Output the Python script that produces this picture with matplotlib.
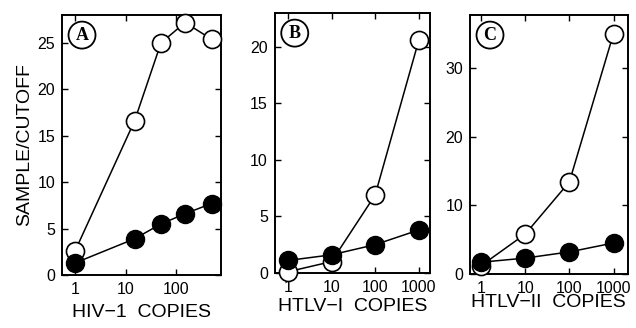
import matplotlib
matplotlib.use("Agg")
import matplotlib.pyplot as plt
from matplotlib.patches import Ellipse
import numpy as np

plt.rcParams['font.family'] = ['Liberation Sans', 'DejaVu Sans']

# Panel A: HIV-1
a_x = [1, 15, 50, 150, 500]
a_open = [2.6, 16.6, 25.0, 27.2, 25.4]
a_fill = [1.3, 3.9, 5.5, 6.6, 7.7]
# Panel B: HTLV-I
b_x = [1, 10, 100, 1000]
b_open = [0.1, 1.0, 6.9, 20.6]
b_fill = [1.1, 1.6, 2.5, 3.8]
# Panel C: HTLV-II
c_x = [1, 10, 100, 1000]
c_open = [1.2, 5.8, 13.4, 35.0]
c_fill = [1.7, 2.3, 3.2, 4.5]

panels = [
    dict(x=a_x, o=a_open, f=a_fill, letter='A', xlabel='HIV\u22121  COPIES',
         xticks=[1, 10, 100], xticklabels=['1', '10', '100'],
         yticks=[0, 5, 10, 15, 20, 25], ylim=(0, 28), xlim=(0.55, 760),
         rect=[0.0975, 0.1616, 0.2495, 0.7924], lp=5),
    dict(x=b_x, o=b_open, f=b_fill, letter='B', xlabel='HTLV\u2212I  COPIES',
         xticks=[1, 10, 100, 1000], xticklabels=['1', '10', '100', '1000'],
         yticks=[0, 5, 10, 15, 20], ylim=(0, 23), xlim=(0.5, 1800),
         rect=[0.432, 0.168, 0.244, 0.792], lp=2),
    dict(x=c_x, o=c_open, f=c_fill, letter='C', xlabel='HTLV\u2212II  COPIES',
         xticks=[1, 10, 100, 1000], xticklabels=['1', '10', '100', '1000'],
         yticks=[0, 10, 20, 30], ylim=(0, 37.7), xlim=(0.56, 2100),
         rect=[0.739, 0.165, 0.248, 0.789], lp=-1),
]

fig = plt.figure(figsize=(6.36, 3.28), dpi=100)
for i, p in enumerate(panels):
    ax = fig.add_axes(p['rect'])
    ax.set_xscale('log')
    ax.plot(p['x'], p['o'], '-o', color='black', lw=1.1, ms=13,
            mfc='white', mec='black', mew=1.2, clip_on=False, zorder=3)
    ax.plot(p['x'], p['f'], '-o', color='black', lw=1.1, ms=13,
            mfc='black', mec='black', clip_on=False, zorder=4)
    ax.set_xlim(*p['xlim'])
    ax.set_ylim(*p['ylim'])
    ax.set_xticks(p['xticks'])
    ax.set_xticklabels(p['xticklabels'])
    ax.xaxis.set_minor_locator(matplotlib.ticker.NullLocator())
    ax.set_yticks(p['yticks'])
    ax.tick_params(direction='in', top=True, right=True, length=4, width=1,
                   labelsize=11.5, pad=5)
    for s in ax.spines.values():
        s.set_linewidth(1.4)
    ax.set_xlabel(p['xlabel'], fontsize=14, labelpad=p['lp'])
    if i == 0:
        ax.set_ylabel('SAMPLE/CUTOFF', fontsize=14, labelpad=3)
    # letter in circle
    bbox = ax.get_window_extent()
    w_px, h_px = bbox.width, bbox.height
    cx = 20 / w_px
    cy = 1 - 20 / h_px
    ax.add_patch(Ellipse((cx, cy), 27 / w_px, 27 / h_px, transform=ax.transAxes,
                         fill=False, ec='black', lw=1.3, zorder=5, clip_on=False))
    ax.text(cx, cy, p['letter'], transform=ax.transAxes, ha='center', va='center',
            fontsize=13, fontweight='bold', family=['Liberation Serif', 'DejaVu Serif'],
            zorder=6)

fig.savefig('out.png', dpi=100)
